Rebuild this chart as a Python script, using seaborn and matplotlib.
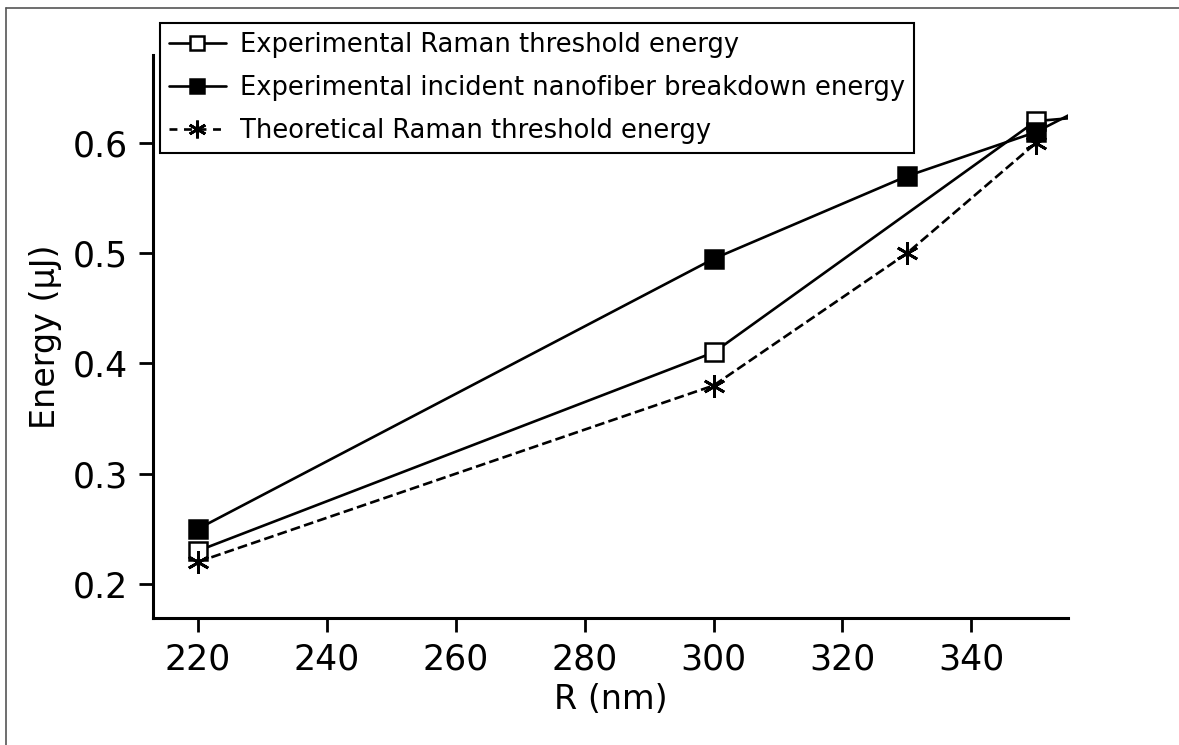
import numpy as np
import pandas as pd
import matplotlib
matplotlib.use("Agg")
import matplotlib.pyplot as plt
from matplotlib.lines import Line2D
import seaborn as sns

# Fiber radius (nm) and measured / computed energies (uJ)
radius = [220, 300, 330, 350, 360]
raman_exp = [0.23, 0.41, np.nan, 0.62, 0.625]
breakdown_exp = [0.25, 0.495, 0.57, 0.61, 0.64]
raman_theory = [0.22, 0.38, 0.50, 0.60, np.nan]

labels = [
    "Experimental Raman threshold energy",
    "Experimental incident nanofiber breakdown energy",
    "Theoretical Raman threshold energy",
]
xticks = [220, 240, 260, 280, 300, 320, 340]
yticks = [0.2, 0.3, 0.4, 0.5, 0.6]

df = pd.DataFrame({
    "R": radius * 3,
    "E": raman_exp + breakdown_exp + raman_theory,
    "series": [labels[0]] * 5 + [labels[1]] * 5 + [labels[2]] * 5,
}).dropna()

sns.set_theme(style="ticks")
plt.rcParams["font.family"] = ["DejaVu Sans"]
plt.rcParams["text.color"] = "black"

fig = plt.figure(figsize=(11.79, 7.45), dpi=100)
ax = fig.add_axes([153 / 1179, 1 - 618 / 745, (1068 - 153) / 1179, (618 - 55) / 745])

styles = {
    labels[0]: dict(marker="s", mfc="white", mec="black", ms=13, mew=1.8, ls="-", dashes=None),
    labels[1]: dict(marker="s", mfc="black", mec="black", ms=13, mew=1.8, ls="-", dashes=None),
    labels[2]: dict(marker=(6, 2, 0), mfc="black", mec="black", ms=16, mew=2.0, ls="--", dashes=(5.5, 3.7)),
}

handles = []
for lab in labels:
    sub = df[df["series"] == lab]
    st = styles[lab]
    kw = dict(color="black", linewidth=1.9, marker=st["marker"],
              markerfacecolor=st["mfc"], markeredgecolor=st["mec"],
              markersize=st["ms"], markeredgewidth=st["mew"], linestyle=st["ls"])
    if st["dashes"] is not None:
        kw["dashes"] = st["dashes"]
    sns.lineplot(data=sub, x="R", y="E", ax=ax, sort=False, estimator=None,
                 legend=False, **kw)
    hkw = dict(kw)
    hkw["markersize"] = st["ms"] * 0.8
    if st["dashes"] is not None:
        hkw["dashes"] = (3, 2.5)
    handles.append(Line2D([], [], **hkw))

ax.set_xlim(213, 355)
ax.set_ylim(0.169, 0.68)
ax.set_xticks(xticks)
ax.set_yticks(yticks)
ax.set_xticklabels([str(v) for v in xticks])
ax.set_yticklabels([f"{v:.1f}" for v in yticks])
ax.tick_params(axis="both", direction="out", length=10, width=2, color="black",
               labelsize=25, labelcolor="black", pad=8)
for side in ["top", "right"]:
    ax.spines[side].set_visible(False)
for side in ["left", "bottom"]:
    ax.spines[side].set_linewidth(2.2)
    ax.spines[side].set_color("black")

ax.set_xlabel("R (nm)", fontsize=24, color="black", labelpad=4)
ax.set_ylabel("Energy (\u03bcJ)", fontsize=24, color="black", labelpad=8)

leg = ax.legend(handles=handles, labels=labels, loc="upper left",
                bbox_to_anchor=(7 / 915, 1 + 32 / 563), fontsize=18.5,
                frameon=True, fancybox=False, framealpha=1, edgecolor="black",
                handlelength=2.2, handletextpad=0.55, labelspacing=0.66,
                borderpad=0.35, borderaxespad=0)
leg.get_frame().set_linewidth(1.5)
for t in leg.get_texts():
    t.set_color("black")

# thin frame around the figure
fig.add_artist(Line2D([6 / 1179, 6 / 1179], [0, 1 - 8 / 745], transform=fig.transFigure,
                      color="#555555", linewidth=1.2))
fig.add_artist(Line2D([6 / 1179, 1], [1 - 8 / 745, 1 - 8 / 745], transform=fig.transFigure,
                      color="#555555", linewidth=1.2))

fig.savefig("out.png", dpi=100)
